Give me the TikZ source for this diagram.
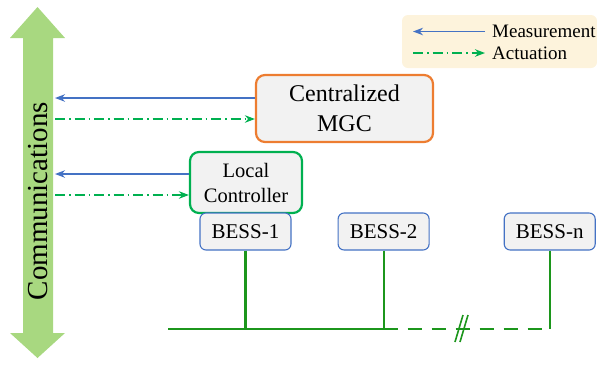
\documentclass[tikz,border=0pt]{standalone}
\usepackage{fontspec}
\setmainfont{Liberation Serif}
\usetikzlibrary{arrows.meta,positioning}
\definecolor{measblue}{RGB}{68,114,196}
\definecolor{actgreen}{RGB}{0,176,80}
\definecolor{mgcorange}{RGB}{237,125,49}
\definecolor{busgreen}{RGB}{28,150,28}
\definecolor{commgreen}{RGB}{168,216,128}
\definecolor{boxgray}{RGB}{242,242,242}
\definecolor{legendbg}{RGB}{253,243,220}

\begin{document}
\begin{tikzpicture}[
  x=1pt, y=-1pt,
  >={Stealth[length=10pt,width=7.5pt]},
  box/.style={draw, fill=boxgray, rounded corners=9pt, align=center, inner sep=0pt},
  ctrl/.style={box, line width=2.2pt},
  bess/.style={box, draw=measblue, line width=1.1pt, rounded corners=6pt, minimum width=91pt, minimum height=37pt, font=\fontsize{21}{25}\selectfont},
  meas/.style={->, draw=measblue, line width=1.6pt},
  act/.style={->, draw=actgreen, line width=1.6pt, dash pattern=on 10pt off 4pt on 1.5pt off 4pt},
  bus/.style={draw=busgreen, line width=2.2pt},
  legtext/.style={anchor=west, inner sep=0pt, font=\fontsize{19}{22}\selectfont},
]
\useasboundingbox (0,0) rectangle (597,365);
% communications double arrow
\fill[commgreen] (37.5,7) -- (65,38) -- (53,38) -- (53,333) -- (65,333) -- (37.5,358)
  -- (10,333) -- (23,333) -- (23,38) -- (10,38) -- cycle;
\node[rotate=90, font=\fontsize{29}{34}\selectfont] (comm) at (38,201) {Communications};
\coordinate (comm in) at (55,0);
% controllers
\node[ctrl, draw=mgcorange, minimum width=177pt, minimum height=67pt, font=\fontsize{24}{30}\selectfont] (mgc) at (344.5,108.5) {Centralized\\MGC};
\node[ctrl, draw=actgreen, minimum width=112pt, minimum height=61pt, font=\fontsize{20.5}{25}\selectfont] (lc) at (246,182.5) {Local\\Controller};
\node[bess] (b1) at (245.5,231.5) {BESS-1};
\node[bess, right=46pt of b1] (b2) {BESS-2};
\node[bess, right=74pt of b2] (bn) {BESS-n};
% measurement / actuation links
\draw[meas] ([yshift=10.5]mgc.west) -- ([yshift=10.5]mgc.west -| comm in);
\draw[act]  ([yshift=-10.5]mgc.west -| comm in) -- ([yshift=-10.5]mgc.west);
\draw[meas] ([yshift=8.5]lc.west) -- ([yshift=8.5]lc.west -| comm in);
\draw[act]  ([yshift=-12.5]lc.west -| comm in) -- ([yshift=-12.5]lc.west);
% bus
\coordinate (bus w) at (168,329);
\draw[bus] (bus w) -- (b2.south |- bus w);
\draw[bus, dash pattern=on 14pt off 10pt] (b2.south |- bus w) -- (bn.south |- bus w);
\foreach \b in {b1,b2,bn} \draw[bus] (\b.south) -- (\b.south |- bus w);
\coordinate (brk) at (461.5,329);
\draw[bus, line width=1.6pt] ([xshift=-6.5,yshift=-13]brk) -- ([xshift=1.5,yshift=14]brk);
\draw[bus, line width=1.6pt] ([xshift=-1.5,yshift=-13]brk) -- ([xshift=6.5,yshift=14]brk);
% legend
\node[fill=legendbg, rounded corners=6pt, minimum width=195pt, minimum height=53pt, inner sep=0pt] (leg) at (499.5,41.5) {};
\node[legtext] (lm) at (492,31.5) {Measurement};
\node[legtext] (la) at (492,53) {Actuation};
\draw[meas] ([xshift=-7]lm.west) -- ([xshift=-79]lm.west);
\draw[act]  ([xshift=-79]la.west) -- ([xshift=-7]la.west);
\end{tikzpicture}
\end{document}
